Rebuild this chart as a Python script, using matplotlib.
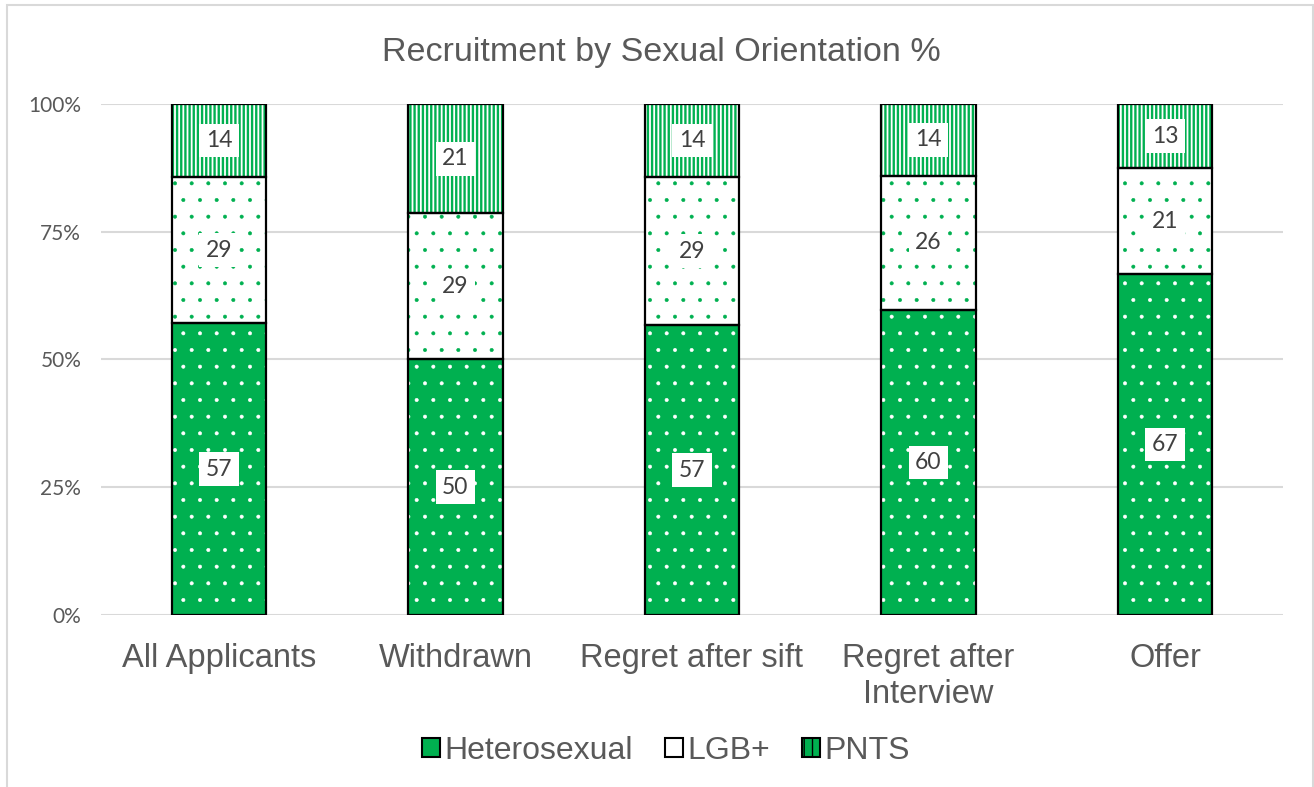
import matplotlib as mpl
import matplotlib.pyplot as plt
from matplotlib.patches import Rectangle, Patch
import numpy as np

categories = ["All Applicants", "Withdrawn", "Regret after sift",
              "Regret after\nInterview", "Offer"]
hetero = [57.1, 50.0, 56.7, 59.7, 66.7]
lgb = [28.6, 28.6, 29.0, 26.2, 20.7]
pnts = [14.3, 21.4, 14.3, 14.1, 12.6]
series_names = ["Heterosexual", "LGB+", "PNTS"]
yticks = [0, 25, 50, 75, 100]

GREEN = "#00B050"
GREY = "#595959"

fig = plt.figure(figsize=(13.14, 7.87), dpi=100)
ax = fig.add_axes([0.0766, 0.2186, 0.9, 0.6493])

x = np.arange(len(categories))
width = 0.4

# (fill, hatch colour, hatch, hatch linewidth)
styles = [
    (GREEN, "white", ".", 0.4),
    ("white", GREEN, ".", 0.4),
    ("white", GREEN, "||||", 1.7),
]

bottom = np.zeros(len(categories))
for vals, (fc, hc, hatch, hlw) in zip([hetero, lgb, pnts], styles):
    vals = np.array(vals)
    with mpl.rc_context({"hatch.linewidth": hlw}):
        bars = ax.bar(x, vals, width, bottom=bottom, color=fc, edgecolor=hc,
                      hatch=hatch, linewidth=0, zorder=2)
    for b in bars:
        if hasattr(b, "set_hatch_linewidth"):
            b.set_hatch_linewidth(hlw)
    ax.bar(x, vals, width, bottom=bottom, fill=False, edgecolor="black",
           linewidth=1.6, zorder=3)
    for xi, b, v in zip(x, bottom, vals):
        ax.text(xi, b + v / 2, f"{v:.0f}", ha="center", va="center",
                fontsize=16.5, color="#404040", family="Lato", zorder=4,
                bbox=dict(boxstyle="square,pad=0.28", fc="white", ec="none"))
    bottom = bottom + vals

ax.set_xlim(-0.5, len(categories) - 0.5)
ax.set_ylim(0, 100)
ax.set_yticks(yticks)
ax.set_yticklabels([f"{t}%" for t in yticks], fontsize=15, color=GREY,
                   family="Lato")
ax.set_xticks(x)
ax.set_xticklabels(categories, fontsize=23.5, color=GREY,
                   family="Liberation Sans", linespacing=1.2)
ax.tick_params(length=0)
ax.tick_params(axis="y", pad=14)
ax.tick_params(axis="x", pad=20)
for s in ax.spines.values():
    s.set_visible(False)
ax.yaxis.grid(True, color="#D9D9D9", linewidth=1.5, zorder=0)
ax.set_axisbelow(True)

fig.text(0.503, 0.933, "Recruitment by Sexual Orientation %", ha="center",
         va="center", fontsize=24.5, color=GREY, family="Liberation Sans")

handles = []
for (fc, hc, hatch, hlw) in styles:
    handles.append(Patch(facecolor=fc, edgecolor="black", linewidth=1.5))
leg = fig.legend(handles, series_names, loc="center", ncol=3,
                 bbox_to_anchor=(0.507, 0.046), frameon=False,
                 prop={"family": "Liberation Sans", "size": 23},
                 handlelength=0.55, handleheight=0.55, handletextpad=0.15,
                 columnspacing=1.0)
for t in leg.get_texts():
    t.set_color(GREY)
hpatch = leg.get_patches()
hpatch[2].set_facecolor(GREEN)
hpatch[2].set_hatch("||")

fig.patches.append(Rectangle((7 / 1314, -0.02), 1306 / 1314, 1 - 5 / 787 + 0.02,
                             transform=fig.transFigure, fill=False,
                             edgecolor="#D9D9D9", linewidth=1.5))

fig.savefig("out.png", dpi=100)
